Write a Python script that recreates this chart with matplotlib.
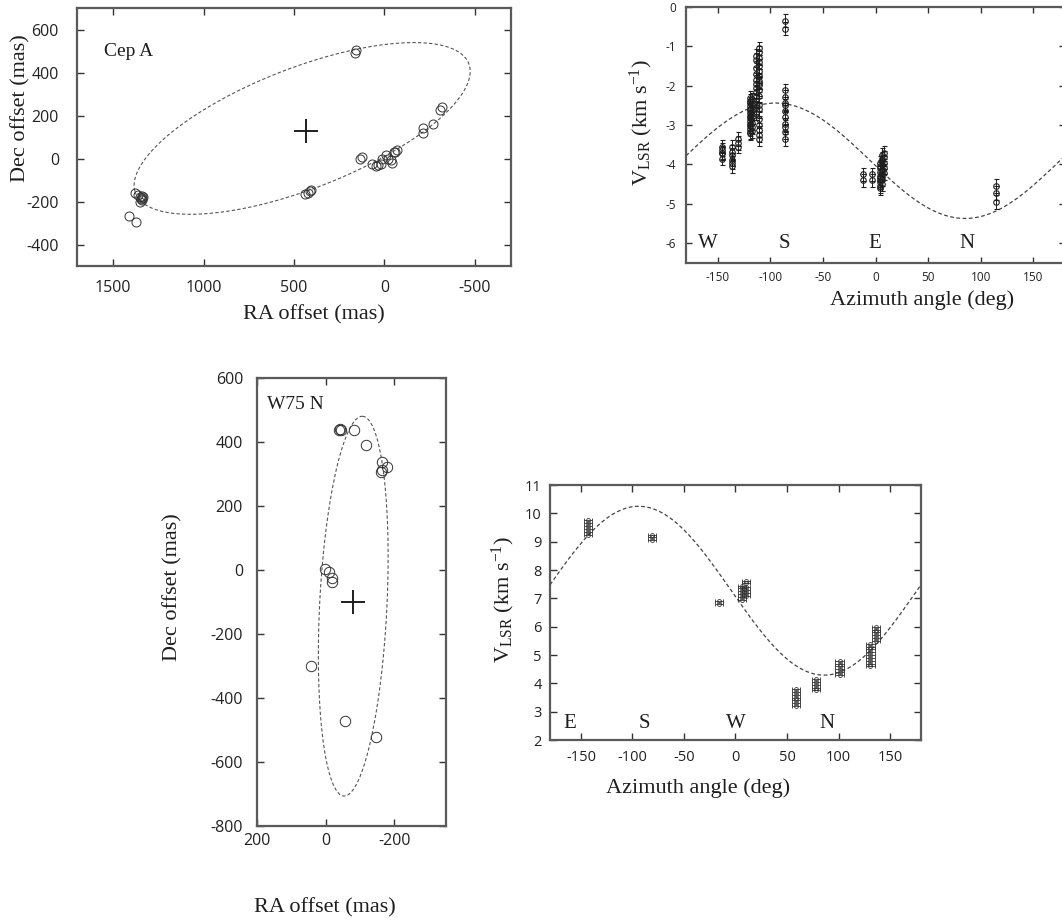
import numpy as np
import matplotlib
matplotlib.use("Agg")
import matplotlib.pyplot as plt

plt.rcParams['font.family'] = ['Open Sans', 'DejaVu Sans']
plt.rcParams['mathtext.fontset'] = 'custom'
plt.rcParams['mathtext.rm'] = 'Liberation Serif'
plt.rcParams['mathtext.it'] = 'Liberation Serif:italic'
plt.rcParams['axes.unicode_minus'] = False

SERIF = 'Liberation Serif'
INK = '#1e1e1e'
FRAME = '#5a5a5a'

# ---- Cep A: maser spot positions (mas)
cepa_ra = [165, 155, 1380, 1362, 1352, 1345, 1340, 1336, 1350, 1343, 1338, 1412, 1375,
           440, 425, 410, 405, 135, 126, 67, 48, 20, 11, -7, -17, -35, -44, -53, -72,
           -60, 35, -213, -213, -268, -305, -320]
cepa_dec = [490, 505, -160, -170, -180, -190, -185, -180, -200, -175, -192, -266, -297,
            -165, -160, -150, -145, 0, 6, -24, -35, -24, 0, 15, 0, -8, -20, 30, 38,
            32, -30, 140, 120, 160, 226, 240]
# fitted ring: centre, semi-axes, orientation (deg)
cepa_ring = dict(x0=455, y0=140, a=970, b=286, theta=-17.5)
cepa_centre = (435, 127)

# ---- Cep A: LSR velocity vs azimuth angle
cepa_group_az = [-146, -136, -131, -119, -117, -114, -111, -86, -12, -3, 4, 6, 8, 114]
cepa_group_v = [
    [-3.55, -3.62, -3.70, -3.72, -3.85],
    [-3.55, -3.68, -3.75, -3.88, -3.95, -4.05],
    [-3.35, -3.45, -3.55],
    [-2.30, -2.38, -2.45, -2.52, -2.58, -2.62, -2.70, -2.78, -2.82, -2.90, -2.98,
     -3.02, -3.10, -3.18, -3.20],
    [-2.35, -2.50, -2.65, -2.80, -2.95, -3.05, -3.15],
    [-1.25, -1.35, -1.55, -1.70, -1.85, -1.95, -2.05, -2.15, -2.25, -2.40, -2.55, -2.70],
    [-1.05, -1.15, -1.30, -1.40, -1.50, -1.62, -1.75, -1.88, -1.92, -1.98, -2.10,
     -2.25, -2.48, -2.60, -2.85, -3.00, -3.12, -3.25, -3.35],
    [-0.35, -0.55, -2.12, -2.28, -2.45, -2.50, -2.65, -2.80, -2.98, -3.05, -3.18, -3.35],
    [-4.25, -4.40],
    [-4.25, -4.40],
    [-3.95, -4.05, -4.10, -4.20, -4.28, -4.35, -4.40, -4.45, -4.55, -4.60],
    [-3.75, -3.85, -3.92, -4.02, -4.15, -4.25, -4.38, -4.50],
    [-3.70, -3.82, -3.95, -4.08, -4.22],
    [-4.55, -4.72, -4.95],
]
cepa_verr = 0.17
cepa_model = dict(v0=-3.905, amp=1.465, az0=-95)
cepa_dirs = ['W', 'S', 'E', 'N']
cepa_dir_az = [-159, -87, -1, 87]

# ---- W75 N: maser spot positions (mas)
w75_ra = [-42, -45, -40, -82, -118, -163, -178, -162, -164, 2, -10, -19, -17, 43, -56, -147]
w75_dec = [441, 437, 438, 438, 391, 337, 323, 307, 312, 3, -7, -26, -38, -301, -471, -523]
w75_ring = dict(x0=-80, y0=-113, a=594, b=98, theta=92.6)
w75_centre = (-80, -101)

# ---- W75 N: LSR velocity vs azimuth angle
w75_group_az = [-143, -81, -16, 6, 10, 59, 78, 101, 131, 136]
w75_group_v = [
    [9.25, 9.35, 9.45, 9.55, 9.65, 9.75],
    [9.05, 9.15, 9.25],
    [6.80, 6.90],
    [6.95, 7.05, 7.15, 7.25, 7.35, 7.45],
    [7.10, 7.20, 7.30, 7.40, 7.55, 7.60],
    [3.20, 3.30, 3.40, 3.50, 3.60, 3.70, 3.80],
    [3.75, 3.85, 3.95, 4.05, 4.15],
    [4.30, 4.40, 4.50, 4.60, 4.70, 4.80],
    [4.60, 4.70, 4.80, 4.90, 5.00, 5.10, 5.20, 5.30, 5.40],
    [5.50, 5.60, 5.70, 5.80, 5.90, 6.00],
]
w75_azerr = 4
w75_model = dict(v0=7.27, amp=2.98, az0=-94)
w75_dirs = ['E', 'S', 'W', 'N']
w75_dir_az = [-161, -88, 0, 89]

VLABEL = r'V$_{\rm LSR}$ (km $\rm s^{-1}$)'


def ring_curve(x0, y0, a, b, theta):
    t = np.linspace(0, 2 * np.pi, 400)
    th = np.radians(theta)
    x = x0 + a * np.cos(t) * np.cos(th) - b * np.sin(t) * np.sin(th)
    y = y0 + a * np.cos(t) * np.sin(th) + b * np.sin(t) * np.cos(th)
    return x, y


def style_axes(ax, tick_size, pad_x, pad_y, tick_len):
    for s in ax.spines.values():
        s.set_color(FRAME)
        s.set_linewidth(1.6)
    ax.tick_params(direction='in', top=True, right=True, length=tick_len,
                   width=1.0, color='#333333', labelsize=tick_size, labelcolor='#222222')
    ax.tick_params(axis='x', pad=pad_x)
    ax.tick_params(axis='y', pad=pad_y)


def label_axes(ax, xlabel, ylabel, xpos, ypos, size):
    ax.set_xlabel(xlabel, family=SERIF, fontsize=size, color=INK)
    ax.set_ylabel(ylabel, family=SERIF, fontsize=size, color=INK)
    ax.xaxis.set_label_coords(*xpos)
    ax.yaxis.set_label_coords(*ypos)


fig = plt.figure(figsize=(10.62, 9.24), dpi=100)

# Cep A positions
ax1 = fig.add_axes([0.0725, 0.7121, 0.4087, 0.2792])
rx, ry = ring_curve(**cepa_ring)
ax1.plot(rx, ry, ls=(0, (3, 2)), color='#555555', lw=0.8)
ax1.plot(cepa_ra, cepa_dec, 'o', ms=6.5, mfc='none', mec='#333333', mew=0.7)
ax1.plot(*cepa_centre, '+', ms=17, mew=1.4, color=INK)
ax1.set_xlim(1700, -700)
ax1.set_ylim(-500, 700)
ax1.set_xticks([1500, 1000, 500, 0, -500])
ax1.set_yticks([-400, -200, 0, 200, 400, 600])
style_axes(ax1, 11.5, 10, 13, 5)
ax1.text(0.062, 0.83, 'Cep A', transform=ax1.transAxes, family=SERIF, fontsize=14,
         va='center', ha='left', color=INK)
label_axes(ax1, 'RA offset (mas)', 'Dec offset (mas)', (0.546, -0.15), (-0.108, 0.612), 16)

# Cep A velocities
ax2 = fig.add_axes([0.6460, 0.7154, 0.3569, 0.2771])
az = np.linspace(-180, 180, 361)
ax2.plot(az, cepa_model['v0'] + cepa_model['amp'] * np.cos(np.radians(az - cepa_model['az0'])),
         ls=(0, (3, 2)), color='#444444', lw=0.9)
for g_az, g_v in zip(cepa_group_az, cepa_group_v):
    ax2.errorbar([g_az] * len(g_v), g_v, yerr=cepa_verr, fmt='o', ms=4.0, mfc='none',
                 mec=INK, mew=0.8, ecolor=INK, elinewidth=0.7, capsize=1.8, capthick=0.7)
for d, a in zip(cepa_dirs, cepa_dir_az):
    ax2.text(a, -6.0, d, family=SERIF, fontsize=15, ha='center', va='center', color=INK)
ax2.set_xlim(-180, 180)
ax2.set_ylim(-6.5, 0)
ax2.set_xticks([-150, -100, -50, 0, 50, 100, 150])
ax2.set_yticks([-6, -5, -4, -3, -2, -1, 0])
style_axes(ax2, 8.5, 6, 7, 4)
label_axes(ax2, 'Azimuth angle (deg)', VLABEL, (0.623, -0.105), (-0.082, 0.549), 16)

# W75 N positions
ax3 = fig.add_axes([0.2420, 0.1061, 0.1780, 0.4848])
rx, ry = ring_curve(**w75_ring)
ax3.plot(rx, ry, ls=(0, (3, 2)), color='#555555', lw=0.8)
ax3.plot(w75_ra, w75_dec, 'o', ms=7.5, mfc='none', mec='#333333', mew=0.7)
ax3.plot(*w75_centre, '+', ms=17, mew=1.4, color=INK)
ax3.set_xlim(200, -350)
ax3.set_ylim(-800, 600)
ax3.set_xticks([200, 0, -200])
ax3.set_yticks([-800, -600, -400, -200, 0, 200, 400, 600])
style_axes(ax3, 11.5, 5, 10, 5)
ax3.text(0.051, 0.941, 'W75 N', transform=ax3.transAxes, family=SERIF, fontsize=14,
         va='center', ha='left', color=INK)
label_axes(ax3, 'RA offset (mas)', 'Dec offset (mas)', (0.36, -0.16), (-0.392, 0.533), 16)

# W75 N velocities
ax4 = fig.add_axes([0.5179, 0.1991, 0.3493, 0.2760])
ax4.plot(az, w75_model['v0'] + w75_model['amp'] * np.cos(np.radians(az - w75_model['az0'])),
         ls=(0, (3, 2)), color='#444444', lw=0.9)
for g_az, g_v in zip(w75_group_az, w75_group_v):
    ax4.errorbar([g_az] * len(g_v), g_v, xerr=w75_azerr, fmt='o', ms=2.8, mfc='none',
                 mec='#333333', mew=0.6, ecolor='#333333', elinewidth=0.6,
                 capsize=1.5, capthick=0.6)
for d, a in zip(w75_dirs, w75_dir_az):
    ax4.text(a, 2.6, d, family=SERIF, fontsize=15, ha='center', va='center', color=INK)
ax4.set_xlim(-180, 180)
ax4.set_ylim(2, 11)
ax4.set_xticks([-150, -100, -50, 0, 50, 100, 150])
ax4.set_yticks(range(2, 12))
style_axes(ax4, 10.5, 7, 6, 5)
label_axes(ax4, 'Azimuth angle (deg)', VLABEL, (0.40, -0.149), (-0.089, 0.549), 16)

fig.savefig('out.png', dpi=100, facecolor='white')
